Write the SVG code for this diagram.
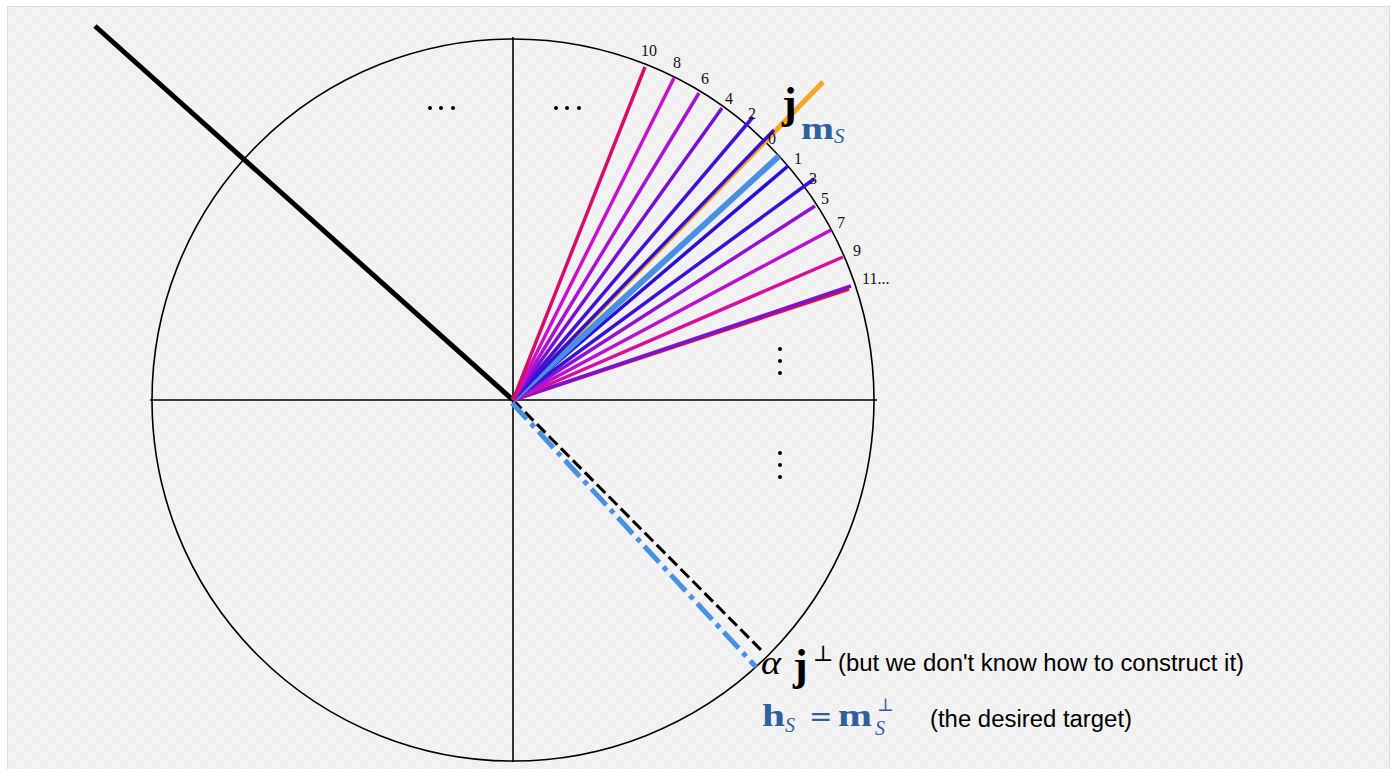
<svg xmlns="http://www.w3.org/2000/svg" width="1395" height="769" viewBox="0 0 1395 769">
<defs>
<pattern id="grid" width="16" height="16" patternUnits="userSpaceOnUse">
<rect width="16" height="16" fill="#f4f4f4"/>
<rect width="8" height="8" fill="#efefef"/>
<rect x="8" y="8" width="8" height="8" fill="#efefef"/>
</pattern>
<style>
.ax{stroke:#000;stroke-width:1.6;fill:none}
.ray{stroke-width:3.5;stroke-linecap:butt;fill:none}
.num{font-family:"Liberation Serif","DejaVu Serif",serif;font-size:16px;fill:#111}
.sans{font-family:"Liberation Sans",Arial,sans-serif;font-size:23px;fill:#000}
.mb{font-family:"Liberation Serif","DejaVu Serif",serif;font-weight:bold}
.mi{font-family:"Liberation Serif","DejaVu Serif",serif;font-style:italic}
.mr{font-family:"DejaVu Serif","Liberation Serif",serif}
.blue{fill:#2f5f9c}
.dot{fill:#000}
</style>
</defs>
<rect x="0" y="0" width="1395" height="769" fill="#fff"/>
<rect x="7.5" y="6.5" width="1382" height="770" fill="url(#grid)" stroke="#dcdcdc" stroke-width="1"/>

<g id="circle-node">
<circle cx="513" cy="400" r="361" class="ax"/>
<line x1="150" y1="400" x2="877" y2="400" class="ax"/>
<line x1="513" y1="37" x2="513" y2="762" class="ax"/>
</g>

<g id="connectors">
<line x1="513" y1="400" x2="95" y2="26" stroke="#000" stroke-width="5"/>
<line x1="513" y1="400" x2="823" y2="82" stroke="#f5a623" stroke-width="5"/>
<line x1="513" y1="400" x2="763" y2="652" stroke="#000" stroke-width="3" stroke-dasharray="12,5"/>
<line x1="513" y1="400" x2="757" y2="664" stroke="#4a90e2" stroke-width="5" stroke-dasharray="22,6,5,6" transform="translate(-1,3)"/>
<line x1="513" y1="400" x2="849" y2="289" class="ray" stroke="#e0103a"/>
<line x1="513" y1="400" x2="851" y2="286" class="ray" stroke="#7a12d4"/>
<line x1="513" y1="400" x2="843" y2="257" class="ray" stroke="#d4109c"/>
<line x1="513" y1="400" x2="831" y2="230" class="ray" stroke="#b812d0"/>
<line x1="513" y1="400" x2="815" y2="206" class="ray" stroke="#9012d0"/>
<line x1="513" y1="400" x2="814" y2="179" class="ray" stroke="#3a10d4"/>
<line x1="513" y1="400" x2="788" y2="166" class="ray" stroke="#2a0ed8"/>
<line x1="513" y1="400" x2="779" y2="156" stroke="#4a90e2" stroke-width="6"/>
<line x1="513" y1="400" x2="774" y2="130" class="ray" stroke="#3410d0"/>
<line x1="513" y1="400" x2="753" y2="117" class="ray" stroke="#4410d6"/>
<line x1="513" y1="400" x2="722" y2="108" class="ray" stroke="#7810d4"/>
<line x1="513" y1="400" x2="699" y2="93" class="ray" stroke="#a812d0"/>
<line x1="513" y1="400" x2="674" y2="78" class="ray" stroke="#c812c8"/>
<line x1="513" y1="400" x2="645" y2="67" class="ray" stroke="#d60c6a"/>
</g>

<g id="ray-labels">
<text class="num" x="641" y="56">10</text>
<text class="num" x="673" y="68">8</text>
<text class="num" x="701" y="84">6</text>
<text class="num" x="725" y="104">4</text>
<text class="num" x="748" y="119">2</text>
<text class="num" x="768" y="144">0</text>
<text class="num" x="794" y="164">1</text>
<text class="num" x="809" y="184">3</text>
<text class="num" x="821" y="204">5</text>
<text class="num" x="837" y="228">7</text>
<text class="num" x="853" y="256">9</text>
<text class="num" x="862" y="284">11...</text>
</g>

<g id="dots">
<circle class="dot" cx="430" cy="108" r="2"/><circle class="dot" cx="441" cy="108" r="2"/><circle class="dot" cx="453" cy="108" r="2"/>
<circle class="dot" cx="556" cy="108" r="2"/><circle class="dot" cx="567" cy="108" r="2"/><circle class="dot" cx="579" cy="108" r="2"/>
<circle class="dot" cx="780" cy="349" r="2"/><circle class="dot" cx="780" cy="361" r="2"/><circle class="dot" cx="780" cy="373" r="2"/>
<circle class="dot" cx="780" cy="453" r="2"/><circle class="dot" cx="780" cy="465" r="2"/><circle class="dot" cx="780" cy="477" r="2"/>
</g>

<g id="label-j">
<text class="mb" x="782" y="118" font-size="44" fill="#000">j</text>
</g>
<g id="label-mS">
<text class="mb blue" x="801" y="139" font-size="31" textLength="33" lengthAdjust="spacingAndGlyphs">m</text>
<text class="mi blue" x="834" y="143" font-size="21">S</text>
</g>

<g id="label-jperp">
<text class="mi" x="761" y="674" font-size="34" fill="#000" textLength="20" lengthAdjust="spacingAndGlyphs">α</text>
<text class="mb" x="793" y="680" font-size="44" fill="#000">j</text>
<text class="mr" x="813" y="661" font-size="22" fill="#000">⊥</text>
<text class="sans" x="838" y="671" textLength="406" lengthAdjust="spacingAndGlyphs">(but we don't know how to construct it)</text>
</g>

<g id="label-hS">
<text class="mb blue" x="762" y="726" font-size="31" textLength="23" lengthAdjust="spacingAndGlyphs">h</text>
<text class="mi blue" x="785" y="732" font-size="20">S</text>
<text class="mr blue" x="809" y="726" font-size="28">=</text>
<text class="mb blue" x="838" y="726" font-size="31" textLength="34" lengthAdjust="spacingAndGlyphs">m</text>
<text class="mr blue" x="877" y="711" font-size="18">⊥</text>
<text class="mi blue" x="875" y="735" font-size="20">S</text>
<text class="sans" x="930" y="727" textLength="202" lengthAdjust="spacingAndGlyphs">(the desired target)</text>
</g>
</svg>
